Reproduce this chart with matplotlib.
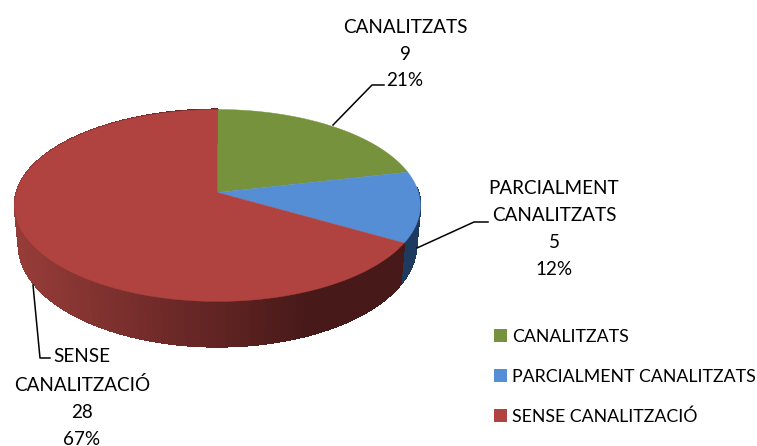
import numpy as np
import matplotlib
matplotlib.use('Agg')
import matplotlib.pyplot as plt
from matplotlib.patches import Patch

categories = ['CANALITZATS', 'PARCIALMENT CANALITZATS', 'SENSE CANALITZACIÓ']
label_lines = ['CANALITZATS', 'PARCIALMENT\nCANALITZATS', 'SENSE\nCANALITZACIÓ']
values = [9, 5, 28]
percents = ['21%', '12%', '67%']
colors = ['#76923c', '#558ed5', '#b0433f']
side_colors = ['#4f6228', '#1f3a5f', '#963c38']

plt.rcParams['font.family'] = ['Lato', 'DejaVu Sans']


def project(theta, cx, cy, a, s, k=0.135):
    # perspective view of a circle, theta clockwise from the top
    x = np.sin(theta)
    y = np.cos(theta)
    w = 1 + k * y
    return cx + a * x / w, cy - s * y / w


fig = plt.figure(figsize=(7.57, 4.46), dpi=100)
ax = fig.add_axes([0, 0, 1, 1])
ax.set_xlim(0, 757)
ax.set_ylim(446, 0)
ax.axis('off')

top = (217.5, 192.5, 201, 94.2)
bottom = (217.5, 231, 197, 100)

edges = np.cumsum([0] + values) / sum(values) * 2 * np.pi

# side wall first, only the front half shows
for i in range(len(values)):
    th = np.linspace(edges[i], edges[i + 1], 120)
    for t0, t1 in zip(th[:-1], th[1:]):
        mid = (t0 + t1) / 2
        if np.cos(mid) > 0.05 and np.sin(mid) > 0:
            continue
        x0, y0 = project(t0, *top)
        x1, y1 = project(t1, *top)
        x2, y2 = project(t1, *bottom)
        x3, y3 = project(t0, *bottom)
        if i == 2:
            f = np.clip(((x0 + x1) / 2 - 17) / 290, 0, 1)
            c = np.array([150, 60, 56]) * (1 - f) + np.array([72, 25, 25]) * f
            c = c / 255
        else:
            c = side_colors[i]
        ax.fill([x0, x1, x2, x3], [y0, y1, y2, y3], color=c, lw=0.8, antialiased=False, zorder=1)

# top face
for i in range(len(values)):
    th = np.linspace(edges[i], edges[i + 1], 200)
    xs, ys = project(th, *top)
    ax.fill(np.r_[top[0], xs], np.r_[top[1], ys], color=colors[i], lw=0.3, zorder=2)

# leader lines
ax.plot([333, 372, 384], [125, 85, 85], color='black', lw=1.1, zorder=3)
ax.plot([417, 474, 488], [248, 222, 222], color='black', lw=1.1, zorder=3)
ax.plot([33, 40, 50], [285, 358, 358], color='black', lw=1.1, zorder=3)

# data labels
label_pos = [(405, 54), (554, 229), (82, 398)]
for i in range(len(values)):
    txt = f'{label_lines[i]}\n{values[i]}\n{percents[i]}'
    ax.text(label_pos[i][0], label_pos[i][1], txt, ha='center', va='center',
            fontsize=13.6, linespacing=1.7, color='black', zorder=4)

handles = [Patch(facecolor=c, edgecolor='none') for c in colors]
ax.legend(handles, categories, loc='upper left', bbox_to_anchor=(494 / 757, 1 - 329 / 446),
          frameon=False, fontsize=12.8, handlelength=0.73, handleheight=0.73,
          handletextpad=0.3, labelspacing=1.33, borderpad=0, borderaxespad=0)

fig.savefig('out.png', dpi=100)
